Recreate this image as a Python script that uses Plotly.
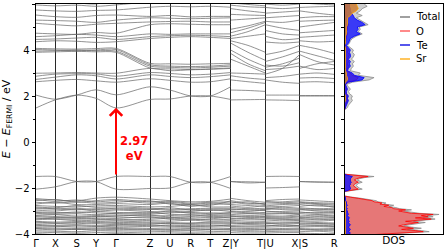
import plotly.graph_objects as go

# ---------------- k-path ----------------
seg_lengths = [19.3, 21.4, 19.3, 20.0, 34.0, 20.0, 20.7, 19.6, 20.4, 34.6, 34.4, 34.6]
tick_labels = ["Γ", "X", "S", "Y", "Γ", "Z", "U", "R", "T", "Z|Y", "T|U", "X|S", "R"]

# band energies (eV) at: Γ X S Y Γ Z U R T Z | Y mid T | U mid X | S mid R
conduction_bands = [
    [1.48, 1.83, 2.04, 1.90, 1.48, 1.85, 1.87, 2.00, 2.00, 1.85, 1.83, 1.84, 1.85, 1.83, 1.82, 1.80, 2.00, 2.00, 2.00],
    [2.04, 1.86, 2.04, 2.27, 2.05, 2.40, 2.26, 2.00, 2.00, 2.40, 2.26, 2.24, 2.20, 2.04, 2.04, 2.04, 2.02, 2.02, 2.02],
    [2.62, 2.68, 2.72, 2.66, 2.60, 2.75, 2.68, 2.60, 2.62, 2.75, 2.70, 2.62, 2.55, 2.70, 2.60, 2.55, 2.60, 2.62, 2.58],
    [2.72, 2.82, 2.92, 2.88, 2.74, 2.92, 2.85, 2.80, 2.84, 2.92, 2.88, 2.78, 2.72, 2.80, 2.85, 2.95, 2.78, 2.80, 2.76],
    [2.86, 2.95, 2.97, 2.96, 2.86, 3.02, 2.98, 2.92, 2.95, 3.02, 3.00, 2.98, 2.95, 2.95, 3.20, 3.80, 2.95, 3.00, 2.94],
    [2.99, 3.00, 3.02, 3.00, 2.99, 3.20, 3.10, 3.14, 3.16, 3.20, 3.60, 3.30, 3.00, 3.35, 3.30, 3.45, 3.20, 3.40, 3.50],
    [3.90, 3.92, 3.94, 3.92, 3.90, 3.22, 3.18, 3.15, 3.18, 3.22, 3.85, 3.40, 3.10, 3.15, 3.20, 3.30, 3.30, 3.15, 3.20],
    [3.95, 3.97, 4.00, 3.97, 3.95, 3.30, 3.25, 3.22, 3.25, 3.30, 4.00, 3.60, 3.28, 3.25, 3.40, 3.65, 3.80, 3.50, 3.35],
    [4.02, 4.00, 3.97, 4.00, 4.02, 3.36, 3.30, 3.28, 3.30, 3.36, 4.30, 3.90, 3.55, 3.50, 3.70, 3.95, 3.95, 3.75, 3.55],
    [4.07, 4.05, 4.04, 4.06, 4.07, 3.42, 3.40, 3.38, 3.40, 3.42, 4.40, 4.20, 3.90, 3.80, 3.95, 4.20, 4.20, 4.05, 3.85],
    [4.36, 4.40, 4.38, 4.33, 4.36, 4.50, 4.55, 4.58, 4.55, 4.50, 4.50, 4.60, 4.70, 4.35, 4.30, 4.35, 4.40, 4.35, 4.38],
    [4.46, 4.48, 4.52, 4.55, 4.46, 4.58, 4.62, 4.64, 4.62, 4.58, 4.60, 4.80, 5.10, 4.60, 4.45, 4.50, 4.55, 4.60, 4.65],
    [4.58, 4.62, 4.68, 4.65, 4.58, 4.70, 4.68, 4.70, 4.70, 4.70, 4.75, 4.95, 5.20, 4.85, 4.70, 4.65, 4.75, 4.80, 4.85],
    [4.73, 4.70, 4.68, 4.76, 4.73, 5.10, 5.14, 5.12, 5.10, 5.10, 4.90, 5.05, 5.25, 5.10, 4.95, 4.85, 5.00, 5.10, 5.20],
    [5.16, 5.10, 5.05, 5.12, 5.16, 5.22, 5.24, 5.25, 5.22, 5.22, 5.30, 5.35, 5.40, 5.25, 5.20, 5.30, 5.25, 5.28, 5.30],
    [5.30, 5.28, 5.25, 5.20, 5.30, 5.40, 5.38, 5.36, 5.38, 5.40, 5.55, 5.52, 5.50, 5.40, 5.45, 5.50, 5.40, 5.45, 5.45],
    [5.52, 5.45, 5.42, 5.50, 5.52, 5.46, 5.50, 5.44, 5.46, 5.46, 5.80, 5.70, 5.62, 5.60, 5.65, 5.70, 5.70, 5.60, 5.52],
    [5.74, 5.70, 5.68, 5.72, 5.74, 5.86, 5.90, 5.88, 5.90, 5.86, 5.95, 5.88, 5.85, 5.85, 5.80, 5.85, 5.85, 5.88, 5.90],
    [5.96, 5.92, 5.95, 5.90, 5.96, 6.10, 6.20, 6.10, 6.02, 6.10, 6.05, 5.98, 5.92, 6.00, 5.95, 6.00, 6.05, 6.00, 5.96],
    [6.20, 6.10, 6.05, 6.00, 6.20, 6.30, 6.25, 6.30, 6.25, 6.30, 6.20, 6.15, 6.10, 6.20, 6.15, 6.10, 6.20, 6.15, 6.10],
]

valence_bands = [
    [-1.50, -1.50, -1.72, -1.72, -1.50, -1.50, -1.50, -1.75, -1.75, -1.50, -1.72, -1.73, -1.75, -1.50, -1.49, -1.50, -1.72, -1.74, -1.75],
    [-2.05, -1.95, -1.72, -1.72, -2.05, -2.02, -2.00, -1.75, -1.75, -2.02, -1.72, -1.78, -1.75, -2.00, -1.98, -1.95, -1.72, -1.74, -1.75],
    [-2.46, -2.52, -2.56, -2.44, -2.40, -2.48, -2.55, -2.60, -2.58, -2.48, -2.45, -2.55, -2.62, -2.55, -2.50, -2.48, -2.52, -2.56, -2.60],
    [-2.50, -2.58, -2.52, -2.60, -2.55, -2.66, -2.62, -2.70, -2.66, -2.66, -2.60, -2.70, -2.66, -2.58, -2.64, -2.60, -2.62, -2.68, -2.70],
    [-2.55, -2.50, -2.62, -2.55, -2.50, -2.60, -2.58, -2.66, -2.62, -2.60, -2.55, -2.66, -2.70, -2.62, -2.60, -2.55, -2.60, -2.64, -2.66],
    [-2.62, -2.66, -2.60, -2.66, -2.62, -2.56, -2.70, -2.72, -2.75, -2.56, -2.66, -2.60, -2.72, -2.70, -2.68, -2.66, -2.66, -2.70, -2.75],
    [-2.70, -2.62, -2.72, -2.72, -2.68, -2.72, -2.66, -2.80, -2.70, -2.72, -2.72, -2.76, -2.80, -2.78, -2.72, -2.70, -2.72, -2.78, -2.80],
    [-2.76, -2.80, -2.82, -2.78, -2.76, -2.82, -2.80, -2.74, -2.82, -2.82, -2.78, -2.84, -2.76, -2.82, -2.80, -2.76, -2.80, -2.74, -2.84],
    [-2.82, -2.86, -2.76, -2.84, -2.82, -2.88, -2.92, -2.90, -2.88, -2.88, -2.84, -2.90, -2.88, -2.90, -2.84, -2.88, -2.86, -2.90, -2.88],
    [-2.86, -2.90, -2.88, -2.94, -2.88, -2.92, -2.96, -2.94, -2.92, -2.92, -2.94, -2.92, -2.94, -2.94, -2.90, -2.92, -2.90, -2.92, -2.96],
    [-2.90, -2.92, -2.95, -2.90, -2.92, -2.94, -2.86, -2.96, -2.98, -2.94, -2.90, -2.96, -2.98, -2.86, -2.94, -2.96, -2.95, -2.96, -2.94],
    [-2.96, -3.00, -2.92, -3.00, -2.96, -3.02, -3.04, -3.02, -2.95, -3.02, -3.00, -3.02, -2.95, -3.04, -3.02, -3.00, -2.92, -3.00, -3.02],
    [-3.04, -3.06, -3.08, -3.02, -3.06, -3.10, -3.00, -3.10, -3.08, -3.10, -3.02, -3.08, -3.10, -3.00, -3.06, -3.08, -3.08, -3.06, -3.10],
    [-3.06, -3.10, -3.04, -3.08, -3.12, -3.14, -3.08, -3.06, -3.12, -3.14, -3.08, -3.10, -3.06, -3.10, -3.10, -3.12, -3.04, -3.10, -3.06],
    [-3.10, -3.14, -3.12, -3.16, -3.10, -3.06, -3.14, -3.18, -3.15, -3.06, -3.16, -3.12, -3.15, -3.14, -3.12, -3.14, -3.12, -3.15, -3.18],
    [-3.18, -3.16, -3.22, -3.20, -3.18, -3.22, -3.20, -3.16, -3.24, -3.22, -3.20, -3.24, -3.24, -3.20, -3.22, -3.16, -3.22, -3.18, -3.22],
    [-3.20, -3.24, -3.28, -3.26, -3.22, -3.18, -3.26, -3.24, -3.20, -3.18, -3.26, -3.20, -3.22, -3.24, -3.26, -3.22, -3.28, -3.24, -3.26],
    [-3.24, -3.28, -3.26, -3.24, -3.26, -3.30, -3.28, -3.30, -3.28, -3.30, -3.24, -3.28, -3.28, -3.28, -3.30, -3.26, -3.26, -3.30, -3.28],
    [-3.30, -3.34, -3.36, -3.32, -3.32, -3.26, -3.36, -3.38, -3.34, -3.26, -3.32, -3.36, -3.34, -3.36, -3.34, -3.34, -3.36, -3.34, -3.36],
    [-3.34, -3.30, -3.32, -3.36, -3.40, -3.36, -3.32, -3.34, -3.38, -3.36, -3.36, -3.32, -3.38, -3.32, -3.36, -3.38, -3.32, -3.38, -3.34],
    [-3.38, -3.36, -3.42, -3.40, -3.36, -3.42, -3.44, -3.40, -3.44, -3.42, -3.40, -3.44, -3.44, -3.44, -3.40, -3.42, -3.42, -3.44, -3.40],
    [-3.45, -3.48, -3.46, -3.46, -3.44, -3.48, -3.50, -3.52, -3.48, -3.48, -3.46, -3.50, -3.48, -3.50, -3.48, -3.48, -3.46, -3.50, -3.52],
    [-3.48, -3.52, -3.50, -3.54, -3.50, -3.52, -3.56, -3.54, -3.52, -3.52, -3.54, -3.54, -3.52, -3.56, -3.52, -3.50, -3.52, -3.54, -3.56],
    [-3.52, -3.54, -3.56, -3.50, -3.54, -3.56, -3.54, -3.58, -3.56, -3.56, -3.50, -3.56, -3.56, -3.54, -3.56, -3.54, -3.56, -3.56, -3.58],
    [-3.58, -3.62, -3.60, -3.62, -3.58, -3.64, -3.62, -3.64, -3.62, -3.64, -3.62, -3.60, -3.62, -3.62, -3.64, -3.62, -3.60, -3.62, -3.64],
    [-3.62, -3.66, -3.64, -3.66, -3.62, -3.60, -3.66, -3.68, -3.66, -3.60, -3.66, -3.66, -3.66, -3.66, -3.60, -3.64, -3.66, -3.64, -3.68],
    [-3.66, -3.66, -3.70, -3.68, -3.66, -3.68, -3.70, -3.70, -3.70, -3.68, -3.68, -3.70, -3.70, -3.70, -3.68, -3.66, -3.70, -3.68, -3.70],
    [-3.72, -3.74, -3.76, -3.74, -3.72, -3.76, -3.78, -3.76, -3.78, -3.76, -3.74, -3.76, -3.78, -3.78, -3.76, -3.74, -3.76, -3.78, -3.76],
    [-3.76, -3.78, -3.80, -3.78, -3.76, -3.80, -3.80, -3.82, -3.80, -3.80, -3.78, -3.80, -3.80, -3.80, -3.80, -3.78, -3.82, -3.80, -3.80],
    [-3.78, -3.82, -3.80, -3.82, -3.80, -3.82, -3.84, -3.84, -3.82, -3.82, -3.82, -3.84, -3.82, -3.84, -3.82, -3.82, -3.80, -3.84, -3.84],
    [-3.86, -3.88, -3.90, -3.86, -3.86, -3.88, -3.90, -3.92, -3.90, -3.88, -3.86, -3.90, -3.90, -3.90, -3.88, -3.88, -3.90, -3.88, -3.92],
    [-3.92, -3.94, -3.96, -3.94, -3.92, -3.96, -3.96, -3.98, -3.96, -3.96, -3.94, -3.96, -3.96, -3.96, -3.94, -3.94, -3.96, -3.98, -3.98],
    [-3.98, -4.02, -4.00, -4.02, -3.98, -4.02, -4.04, -4.02, -4.04, -4.02, -4.02, -4.02, -4.04, -4.04, -4.02, -4.02, -4.00, -4.02, -4.04],
]

gap_value = 2.97
vbm = -1.48
cbm = 1.49

# ---------------- DOS ----------------
dos_energy = (
    [-4.05, -4.00, -3.95, -3.90, -3.85, -3.80, -3.75, -3.70, -3.65, -3.60, -3.55, -3.50,
     -3.45, -3.40, -3.35, -3.30, -3.25, -3.20, -3.15, -3.10, -3.05, -3.00, -2.95, -2.90,
     -2.85, -2.80, -2.75, -2.70, -2.65, -2.60, -2.55, -2.50, -2.45, -2.40, -2.35]
    + [-2.15, -2.10, -2.05, -2.00, -1.95, -1.90, -1.85, -1.80, -1.75, -1.70, -1.65, -1.60,
       -1.55, -1.50, -1.45, -1.40]
    + [1.4, 1.5, 1.6, 1.7, 1.8, 1.9, 2.0, 2.1, 2.2, 2.3, 2.4, 2.5, 2.6, 2.7, 2.8, 2.9, 3.0,
       3.1, 3.2, 3.3, 3.4, 3.5, 3.6, 3.7, 3.8, 3.9, 4.0, 4.1, 4.2, 4.3, 4.4, 4.5, 4.6, 4.7,
       4.8, 4.9, 5.0, 5.1, 5.2, 5.3, 5.4, 5.5, 5.6, 5.7, 5.8, 5.9, 6.0]
)
dos_total = (
    [24, 52, 66, 86, 78, 64, 78, 68, 60, 66, 74, 82, 70, 86, 92, 80, 90, 84, 96, 76, 66, 60,
     68, 56, 52, 45, 50, 40, 42, 34, 32, 26, 17, 8, 0]
    + [0, 10, 18, 15, 13, 12, 13, 14, 18, 15, 13, 15, 20, 30, 10, 0]
    + [0, 3, 4, 6, 8, 7, 8, 5, 4, 6, 4, 2, 8, 25, 30, 14, 16, 6, 7, 9, 8, 10, 7, 9, 10, 8,
       9, 6, 3, 5, 6, 8, 12, 18, 14, 16, 15, 24, 20, 16, 12, 18, 12, 16, 18, 23, 20]
)
dos_o = (
    [20, 45, 60, 80, 72, 58, 70, 62, 55, 60, 68, 75, 62, 80, 88, 72, 85, 78, 90, 68, 60, 55,
     62, 50, 48, 40, 45, 36, 38, 30, 28, 22, 14, 6, 0]
    + [0, 8, 14, 12, 10, 9, 10, 11, 14, 12, 10, 12, 16, 24, 8, 0]
    + [0, 1, 1, 2, 3, 3, 3, 2, 1, 2, 1, 1, 3, 12, 14, 8, 6, 2, 3, 4, 3, 4, 3, 4, 5, 3, 4, 2,
       1, 1, 1, 2, 2, 3, 2, 3, 3, 4, 3, 3, 2, 3, 2, 2, 3, 3, 3]
)
dos_te = (
    [4, 5, 6, 4, 5, 6, 5, 4, 5, 6, 5, 4, 5, 4, 4, 5, 4, 3, 4, 3, 3, 3, 2, 3, 2, 2, 3, 2, 2,
     2, 1, 1, 1, 1, 0]
    + [0, 4, 6, 6, 5, 5, 6, 6, 7, 6, 6, 6, 7, 8, 3, 0]
    + [0, 1, 2, 3, 4, 3, 4, 2, 2, 3, 2, 1, 4, 18, 20, 10, 8, 3, 4, 6, 5, 6, 4, 6, 6, 5, 6,
       4, 2, 4, 5, 6, 10, 16, 12, 14, 13, 21, 18, 13, 10, 9, 7, 6, 6, 5, 5]
)
dos_sr = (
    [1] * 30 + [0] * 5
    + [0] * 16
    + [0, 0, 0, 0, 1, 1, 1, 0, 0, 0, 0, 0, 1, 3, 3, 2, 2, 1, 1, 1, 1, 1, 1, 1, 1, 1, 1, 1,
       0, 1, 1, 1, 1, 2, 2, 2, 2, 3, 3, 3, 3, 6, 8, 12, 14, 13, 12]
)

legend_names = ["Total", "O", "Te", "Sr"]
legend_colors = ["rgb(128,128,128)", "rgba(255,70,70,0.85)", "rgb(30,30,230)", "rgba(255,165,0,0.85)"]

# ---------------- build k coordinates ----------------
cum = [0.0]
for s in seg_lengths:
    cum.append(cum[-1] + s)
chain_k = cum[:10]                      # Γ X S Y Γ Z U R T Z
yt_k = [cum[9], (cum[9] + cum[10]) / 2, cum[10]]
ux_k = [cum[10], (cum[10] + cum[11]) / 2, cum[11]]
sr_k = [cum[11], (cum[11] + cum[12]) / 2, cum[12]]
pieces = [(0, 10, chain_k), (10, 13, yt_k), (13, 16, ux_k), (16, 19, sr_k)]

bx, by = [], []
for band in conduction_bands + valence_bands:
    for a, b, ks in pieces:
        bx.extend(ks + [None])
        by.extend(band[a:b] + [None])

tick_pos = cum

fig = go.Figure()
fig.add_trace(go.Scatter(x=bx, y=by, mode="lines",
                         line=dict(color="rgba(105,105,105,0.85)", width=0.85, shape="spline", smoothing=0.8),
                         showlegend=False, hoverinfo="skip", xaxis="x", yaxis="y"))

# DOS fills
fig.add_trace(go.Scatter(x=dos_total, y=dos_energy, mode="lines", fill="tozerox", fillcolor="rgba(150,150,150,0.45)",
                         line=dict(color="rgb(140,140,140)", width=0.8), name="Total", showlegend=False, xaxis="x2", yaxis="y2"))
fig.add_trace(go.Scatter(x=dos_o, y=dos_energy, mode="lines", fill="tozerox", fillcolor="rgba(245,60,60,0.6)",
                         line=dict(color="rgb(255,0,0)", width=0.8), name="O", showlegend=False, xaxis="x2", yaxis="y2"))
fig.add_trace(go.Scatter(x=dos_te, y=dos_energy, mode="lines", fill="tozerox", fillcolor="rgba(20,20,255,0.8)",
                         line=dict(color="rgb(0,0,255)", width=0.8), name="Te", showlegend=False, xaxis="x2", yaxis="y2"))
fig.add_trace(go.Scatter(x=dos_sr, y=dos_energy, mode="lines", fill="tozerox", fillcolor="rgba(205,125,50,0.85)",
                         line=dict(color="rgb(255,165,0)", width=0.8), name="Sr", showlegend=False, xaxis="x2", yaxis="y2"))

W, H = 446, 249
bx0, bx1 = 36 / W, 334.3 / W
dx0, dx1 = 344.5 / W, 443 / W
y0, y1 = (H - 234) / H, (H - 4) / H

tickfont = dict(family="DejaVu Sans", size=10, color="black")

fig.update_layout(
    width=W, height=H, margin=dict(l=0, r=0, t=0, b=0),
    paper_bgcolor="white", plot_bgcolor="white", showlegend=False,
    font=dict(family="DejaVu Sans", size=10, color="black"),
    xaxis=dict(domain=[bx0, bx1], range=[0, cum[-1]], tickvals=tick_pos, ticktext=tick_labels,
               showgrid=True, gridcolor="rgb(40,40,40)", gridwidth=1, zeroline=False,
               showline=True, linecolor="black", linewidth=1, mirror=True,
               ticks="", tickfont=tickfont, ticklabelstandoff=0, automargin=False),
    yaxis=dict(domain=[y0, y1], range=[-4, 6], dtick=2, tick0=0, showgrid=False, zeroline=False,
               showline=True, linecolor="black", linewidth=1, mirror=True,
               ticks="outside", ticklen=3.5, tickcolor="black", tickfont=tickfont,
               minor=dict(dtick=1, ticks="outside", ticklen=2.5, tickcolor="black"),
               title=dict(text="<i>E</i> − <i>E</i><sub>FERMI</sub> / eV", font=dict(size=11), standoff=6),
               automargin=False),
    xaxis2=dict(domain=[dx0, dx1], range=[0, 100], showticklabels=False, ticks="", showgrid=False,
                zeroline=False, showline=True, linecolor="black", linewidth=1, mirror=True,
                title=dict(text="DOS", font=dict(size=10.5), standoff=2), anchor="y2", automargin=False),
    yaxis2=dict(domain=[y0, y1], range=[-4, 6], dtick=1, tick0=0, showticklabels=False, showgrid=False,
                zeroline=False, showline=True, linecolor="black", linewidth=1, mirror=True,
                ticks="outside", ticklen=3, tickcolor="black", anchor="x2", automargin=False),
)

# legend drawn inside the DOS panel
leg_x0, leg_x1, leg_tx = 400 / W, 410 / W, 414 / W
leg_y = [17, 31, 45, 59]
for name, col, yp in zip(legend_names, legend_colors, leg_y):
    yy = (H - yp) / H
    fig.add_shape(type="line", xref="paper", yref="paper", x0=leg_x0, x1=leg_x1, y0=yy, y1=yy,
                  line=dict(color=col, width=1.5))
    fig.add_annotation(x=leg_tx, y=yy, xref="paper", yref="paper", text=name, showarrow=False,
                       xanchor="left", yanchor="middle", font=dict(size=10, color="black"))

gamma2 = cum[4]
fig.add_annotation(x=gamma2, y=cbm, ax=gamma2, ay=vbm, xref="x", yref="y", axref="x", ayref="y",
                   text="", showarrow=True, arrowhead=4, arrowsize=1.2, arrowwidth=2, arrowcolor="red")
fig.add_annotation(x=gamma2 + 18, y=-0.3, xref="x", yref="y", text=f"<b>{gap_value:.2f}<br>eV</b>",
                   showarrow=False, font=dict(size=11.5, color="red"), align="center")

fig.write_html("out.html")
